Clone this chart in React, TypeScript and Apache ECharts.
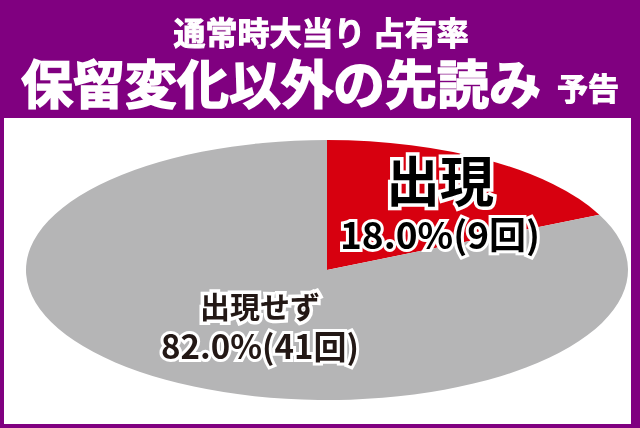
import { useEffect, useRef } from 'react'
import * as echarts from 'echarts'

// 通常時大当り占有率（保留変化以外の先読み予告）
const categories = ['出現', '出現せず']
const counts = [9, 41]

const COLORS = {
  frame: '#800080',
  slices: ['#d7000f', '#b5b5b6'],
  label: ['#000000', '#231815'],
}

const FONT = '"Noto Sans CJK JP", "Noto Sans", sans-serif'

// ellipse geometry (pie squashed vertically)
const CX = 327
const CY = 270
const RX = 301
const RY = 130

// where each slice's label block sits
const LABEL_POS = [
  { x: 440, y1: 178, y2: 233, size1: 54, size2: 37 },
  { x: 260, y1: 305, y2: 345, size1: 30, size2: 33 },
]

const total = counts.reduce((s, v) => s + v, 0)
const pct = (v: number) => `${((v / total) * 100).toFixed(1)}%`

export default function App() {
  const chartRef = useRef<HTMLDivElement | null>(null)

  useEffect(() => {
    if (!chartRef.current) return
    const chart = echarts.init(chartRef.current, undefined, { renderer: 'svg' })

    const labels = categories.flatMap((name, i) => {
      const p = LABEL_POS[i]
      const base = {
        fontFamily: FONT,
        fontWeight: 'bold',
        fill: COLORS.label[i],
        stroke: '#fff',
        align: 'center',
        verticalAlign: 'middle',
      }
      return [
        {
          type: 'text',
          z: 100,
          x: p.x,
          y: p.y1,
          style: { ...base, text: name, fontSize: p.size1, lineHeight: p.size1 * 0.9, lineWidth: 7 },
        },
        {
          type: 'text',
          z: 100,
          x: p.x,
          y: p.y2,
          style: {
            ...base,
            text: `${pct(counts[i])}(${counts[i]}回)`,
            fontSize: p.size2,
            lineHeight: p.size2 * 0.9,
            lineWidth: 6,
          },
        },
      ]
    })

    // white header text, thickened a little with a same-colour stroke
    const title = (text: string, x: number, y: number, size: number, align: string) => ({
      type: 'text',
      z: 100,
      x,
      y,
      style: {
        text,
        fontFamily: FONT,
        fontWeight: 'bold',
        fontSize: size,
        lineHeight: size * 0.9,
        fill: '#fff',
        stroke: '#fff',
        lineWidth: size > 40 ? 1.6 : 1,
        align,
        verticalAlign: 'middle',
      },
    })

    chart.setOption({
      animation: false,
      graphic: [
        { type: 'rect', z: -10, shape: { x: 0, y: 0, width: 640, height: 428 }, style: { fill: COLORS.frame } },
        { type: 'rect', z: -9, shape: { x: 4, y: 118, width: 627, height: 306 }, style: { fill: '#fff' } },
        title('通常時大当り 占有率', 321, 31, 32, 'center'),
        title('保留変化以外の先読み', 21, 81, 52, 'left'),
        title('予告', 557, 86, 31, 'left'),
        ...labels,
      ],
      series: [
        {
          type: 'custom',
          coordinateSystem: 'none',
          z: 2,
          data: counts,
          renderItem: (params: any, api: any) => {
            const i = params.dataIndex
            const before = counts.slice(0, i).reduce((s, v) => s + v, 0)
            const start = -Math.PI / 2 + (before / total) * Math.PI * 2
            const end = start + (api.value(0) / total) * Math.PI * 2
            return {
              type: 'sector',
              x: CX,
              y: CY,
              scaleY: RY / RX,
              shape: { cx: 0, cy: 0, r0: 0, r: RX, startAngle: start, endAngle: end, clockwise: true },
              style: { fill: COLORS.slices[i] },
            }
          },
        },
      ],
    })

    return () => chart.dispose()
  }, [])

  return (
    <div
      ref={chartRef}
      style={{ position: 'fixed', left: 0, top: 0, width: 640, height: 428 }}
    />
  )
}
